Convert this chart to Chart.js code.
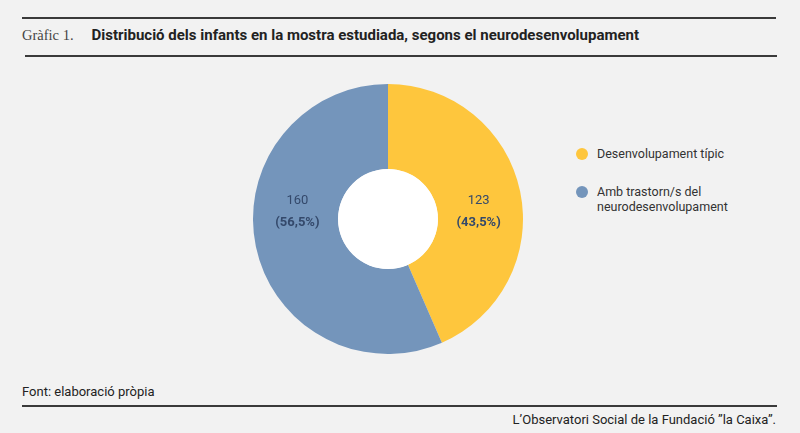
<!DOCTYPE html>
<html>
<head>
<meta charset="utf-8">
<script src="https://cdn.jsdelivr.net/npm/chart.js@4"></script>
<style>
body { margin: 0; width: 800px; height: 433px; background: #f2f2f2; position: relative; overflow: hidden; font-family: Roboto, "Liberation Sans", sans-serif; }
.rule { position: absolute; height: 2px; background: #3a3a3a; }
#title { position: absolute; left: 22px; top: 26px; font-size: 15px; color: #222; white-space: nowrap; }
#title .num { font-family: "Liberation Serif", "DejaVu Serif", serif; font-weight: normal; color: #444; margin-right: 18px; font-size: 14.5px; }
#chartBox { position: absolute; left: 253px; top: 84px; width: 270px; height: 270px; }
#legend { position: absolute; left: 576px; top: 146px; font-size: 12.5px; color: #333; }
.item { position: relative; padding-left: 21px; margin-bottom: 23px; line-height: 15px; }
.dot { position: absolute; left: 0; top: 2px; width: 12px; height: 12px; border-radius: 50%; }
#source { position: absolute; left: 22px; top: 384px; font-size: 13px; color: #222; }
#credit { position: absolute; right: 24px; top: 412px; font-size: 13px; color: #222; }
</style>
</head>
<body>
<div class="rule" style="left:22px; width:754px; top:17px;"></div>
<div id="title"><span class="num">Gràfic 1.</span><b>Distribució dels infants en la mostra estudiada, segons el neurodesenvolupament</b></div>
<div class="rule" style="left:25px; width:752px; top:55px;"></div>
<div id="chartBox"><canvas id="donutChart"></canvas></div>
<div id="legend"></div>
<div id="source">Font: elaboració pròpia</div>
<div class="rule" style="left:22px; width:755px; top:405px;"></div>
<div id="credit">L’Observatori Social de la Fundació ”la Caixa”.</div>
<script>
const categories = ['Desenvolupament típic', ['Amb trastorn/s del', 'neurodesenvolupament']];
const counts = [123, 160];
const percents = ['43,5%', '56,5%'];
const colors = ['#fec63d', '#7495bb'];

// llegenda
const legend = document.getElementById('legend');
categories.forEach((cat, i) => {
    const item = document.createElement('div');
    item.className = 'item';
    item.innerHTML = '<span class="dot" style="background:' + colors[i] + '"></span>' +
        (Array.isArray(cat) ? cat.join('<br>') : cat);
    legend.appendChild(item);
});

// forat blanc + etiquetes
const donutExtras = {
    id: 'donutExtras',
    afterDatasetsDraw(chart) {
        const ctx = chart.ctx;
        const meta = chart.getDatasetMeta(0);
        const first = meta.data[0];
        ctx.save();
        ctx.fillStyle = '#ffffff';
        ctx.beginPath();
        ctx.arc(first.x, first.y, first.innerRadius, 0, Math.PI * 2);
        ctx.fill();
        ctx.fillStyle = '#34496b';
        ctx.textAlign = 'center';
        ctx.textBaseline = 'middle';
        meta.data.forEach((arc, i) => {
            const mid = (arc.startAngle + arc.endAngle) / 2;
            const r = (arc.innerRadius + arc.outerRadius) / 2;
            const side = Math.cos(mid) >= 0 ? 1 : -1;
            const x = arc.x + side * r * 0.98;
            const y = arc.y - 18;
            ctx.font = '13px Roboto, "Liberation Sans", sans-serif';
            ctx.fillText(String(counts[i]), x, y);
            ctx.font = 'bold 13px Roboto, "Liberation Sans", sans-serif';
            ctx.fillText('(' + percents[i] + ')', x, y + 22);
        });
        ctx.restore();
    }
};

const ctx = document.getElementById('donutChart').getContext('2d');
new Chart(ctx, {
    type: 'doughnut',
    data: {
        labels: categories.map(c => Array.isArray(c) ? c.join(' ') : c),
        datasets: [{
            data: counts,
            backgroundColor: colors,
            borderWidth: 0
        }]
    },
    options: {
        responsive: true,
        maintainAspectRatio: false,
        animation: false,
        cutout: '37%',
        layout: { padding: 0 },
        plugins: {
            legend: { display: false },
            tooltip: { enabled: false }
        }
    },
    plugins: [donutExtras]
});
</script>
</body>
</html>
